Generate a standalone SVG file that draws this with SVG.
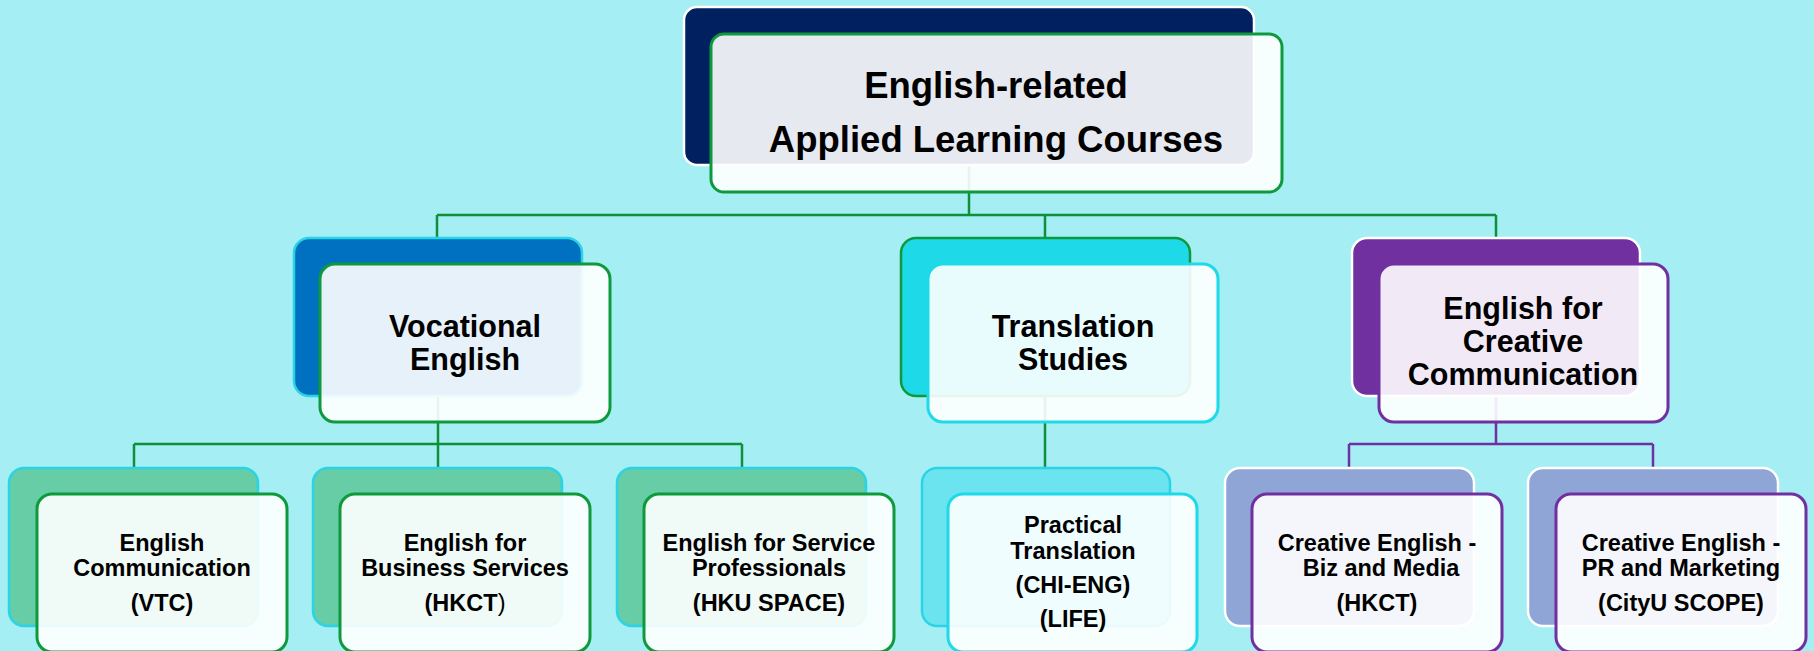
<svg xmlns="http://www.w3.org/2000/svg" width="1814" height="651" viewBox="0 0 1814 651">
<style>
.t{font-family:"Liberation Sans",Arial,sans-serif;font-weight:bold;fill:#000;text-anchor:middle}
.t1{font-size:36.5px}
.t2{font-size:30.5px}
.t3{font-size:23.5px}
.front{fill:#fff;fill-opacity:0.9;stroke-width:3}
.back{stroke-width:2.5}
.cg{fill:none;stroke:#0e8f3a;stroke-width:2.5}
.cp{fill:none;stroke:#7030a0;stroke-width:2.5}
.sg{stroke:#0e9a3c}
.sc{stroke:#1ed9e8}
.sp{stroke:#7030a0}
</style>
<rect x="0" y="0" width="1814" height="651" fill="#a4eef4"/>
<g id="connectors">
<path class="cg" d="M969 165V215M437 215H1496M437 215V238M1045 215V238M1496 215V238"/>
<path class="cg" d="M438 396V444M134 444H742M134 444V469M438 444V469M742 444V469"/>
<path class="cg" d="M1045 396V469"/>
<path class="cp" d="M1496 396V444M1349 444H1653M1349 444V469M1653 444V469"/>
</g>
<g id="root">
<rect class="back" x="684" y="7" width="570" height="158" rx="13" fill="#002060" stroke="#fff"/>
<rect class="front sg" x="711" y="34" width="571" height="158" rx="13"/>
<text class="t t1" x="996" y="98">English-related</text>
<text class="t t1" x="996" y="152">Applied Learning Courses</text>
</g>
<g id="vocational">
<rect class="back" x="294" y="238" width="288" height="158" rx="15" fill="#0070c0" stroke="#2ad4e6"/>
<rect class="front sg" x="320" y="264" width="290" height="158" rx="15"/>
<text class="t t2" x="465" y="337">Vocational</text>
<text class="t t2" x="465" y="370">English</text>
</g>
<g id="translation">
<rect class="back" x="901" y="238" width="289" height="158" rx="15" fill="#1ed9e8" stroke="#0e9a3c"/>
<rect class="front sc" x="928" y="264" width="290" height="158" rx="15"/>
<text class="t t2" x="1073" y="337">Translation</text>
<text class="t t2" x="1073" y="370">Studies</text>
</g>
<g id="creative">
<rect class="back" x="1352" y="238" width="288" height="158" rx="15" fill="#7030a0" stroke="#fff"/>
<rect class="front sp" x="1379" y="264" width="289" height="158" rx="15"/>
<text class="t t2" x="1523" y="319">English for</text>
<text class="t t2" x="1523" y="352">Creative</text>
<text class="t t2" x="1523" y="385">Communication</text>
</g>
<g id="eng-comm">
<rect class="back" x="9" y="468" width="249" height="158" rx="15" fill="#66cda6" stroke="#2ad4e6"/>
<rect class="front sg" x="37" y="494" width="250" height="158" rx="15"/>
<text class="t t3" x="162" y="551">English</text>
<text class="t t3" x="162" y="576">Communication</text>
<text class="t t3" x="162" y="611">(VTC)</text>
</g>
<g id="eng-business">
<rect class="back" x="313" y="468" width="249" height="158" rx="15" fill="#66cda6" stroke="#2ad4e6"/>
<rect class="front sg" x="340" y="494" width="250" height="158" rx="15"/>
<text class="t t3" x="465" y="551">English for</text>
<text class="t t3" x="465" y="576">Business Services</text>
<text class="t t3" x="465" y="611">(HKCT<tspan font-weight="normal">)</tspan></text>
</g>
<g id="eng-service">
<rect class="back" x="617" y="468" width="249" height="158" rx="15" fill="#66cda6" stroke="#2ad4e6"/>
<rect class="front sg" x="644" y="494" width="250" height="158" rx="15"/>
<text class="t t3" x="769" y="551">English for Service</text>
<text class="t t3" x="769" y="576">Professionals</text>
<text class="t t3" x="769" y="611">(HKU SPACE)</text>
</g>
<g id="practical-translation">
<rect class="back" x="922" y="468" width="248" height="158" rx="15" fill="#6be4ef" stroke="#2ad4e6"/>
<rect class="front sc" x="948" y="494" width="249" height="158" rx="15"/>
<text class="t t3" x="1073" y="533">Practical</text>
<text class="t t3" x="1073" y="559">Translation</text>
<text class="t t3" x="1073" y="593">(CHI-ENG)</text>
<text class="t t3" x="1073" y="627">(LIFE)</text>
</g>
<g id="creative-biz">
<rect class="back" x="1225" y="468" width="249" height="158" rx="15" fill="#8fa5d6" stroke="#fff"/>
<rect class="front sp" x="1252" y="494" width="250" height="158" rx="15"/>
<text class="t t3" x="1377" y="551">Creative English -</text>
<text class="t t3" x="1381" y="576">Biz and Media</text>
<text class="t t3" x="1377" y="611">(HKCT)</text>
</g>
<g id="creative-pr">
<rect class="back" x="1528" y="468" width="250" height="158" rx="15" fill="#8fa5d6" stroke="#fff"/>
<rect class="front sp" x="1556" y="494" width="250" height="158" rx="15"/>
<text class="t t3" x="1681" y="551">Creative English -</text>
<text class="t t3" x="1681" y="576">PR and Marketing</text>
<text class="t t3" x="1681" y="611">(CityU SCOPE)</text>
</g>
</svg>
